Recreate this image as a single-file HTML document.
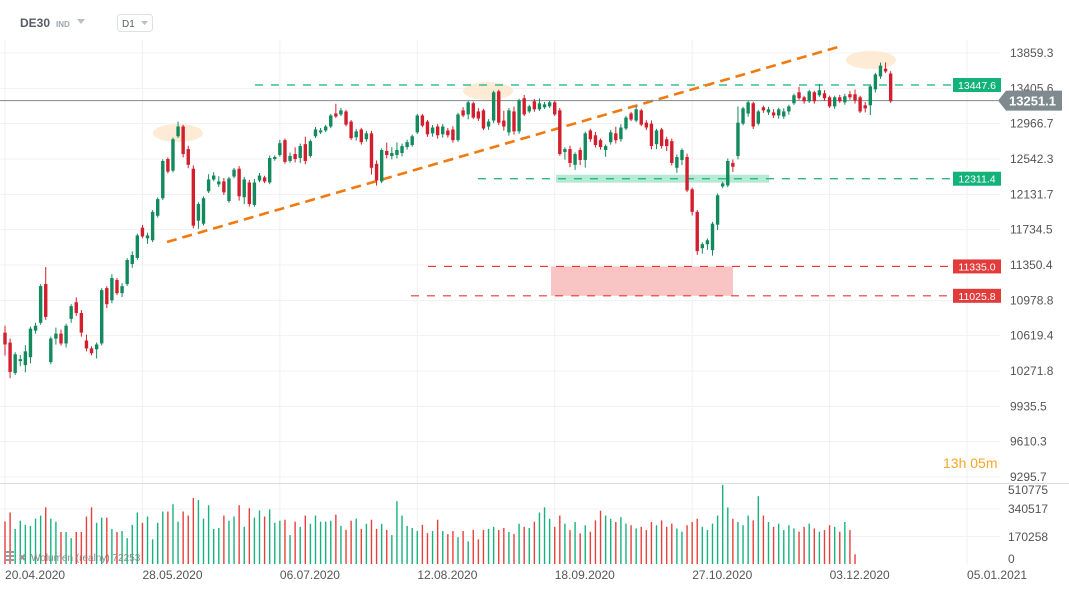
<!DOCTYPE html>
<html><head><meta charset="utf-8"><style>
html,body{margin:0;padding:0;background:#fff;}
body{width:1069px;height:590px;overflow:hidden;font-family:"Liberation Sans",sans-serif;}
svg text{font-family:"Liberation Sans",sans-serif;}
</style></head><body>
<svg id="chart" width="1069" height="590" viewBox="0 0 1069 590" xmlns="http://www.w3.org/2000/svg">
<g id="grid"></g>
<g id="overlays"></g>
<g id="candles"></g>
<g id="volume"></g>
<g id="axes"></g>
<g>
<text x="20" y="27" font-size="12" font-weight="bold" fill="#555e66">DE30</text>
<text x="56" y="27" font-size="8" font-weight="bold" fill="#9aa5ae">IND</text>
<path d="M77 19 L85 19 L81 24 Z" fill="#b8c0c6"/>
<rect x="117.5" y="14.5" width="35" height="17" rx="3" fill="#fff" stroke="#dde1e4"/>
<text x="122" y="27" font-size="10" fill="#555e66">D1</text>
<path d="M141 21 L148 21 L144.5 25 Z" fill="#b8c0c6"/>
</g>
<text x="943" y="468" font-size="14" fill="#f5a623">13h 05m</text>
<g>
<rect x="5" y="551" width="9" height="2" fill="#999"/><rect x="5" y="555" width="9" height="2" fill="#999"/><rect x="5" y="559" width="9" height="2" fill="#999"/>
<text x="18" y="561" font-size="10" fill="#999">✖</text>
<text x="31" y="561" font-size="10" fill="#888">Wolumen  (realny)   72253</text>
</g>
</svg>
<script>
const opens=[10650,10551,10253,10368,10329,10406,10670,10749,11149,10358,10590,10640,10542,10789,10959,10849,10571,10493,10484,10542,11106,10979,11191,11053,11149,11361,11426,11757,11639,11618,11889,12088,12542,12405,12814,12932,12660,12428,11834,11801,12166,12303,12246,12280,12055,12337,12428,12099,12268,12011,12291,12326,12268,12542,12590,12767,12519,12601,12554,12719,12578,12814,12861,12884,12932,13092,13080,13117,12992,12802,12896,12778,12849,12485,12280,12637,12578,12590,12613,12684,12708,12861,13067,12992,12849,12932,12837,12884,12896,12767,13130,13080,13218,13117,13130,12932,13005,13368,13005,12861,13117,12873,13281,13117,13243,13143,13168,13180,13230,13130,12625,12660,12474,12649,12531,12884,12826,12767,12649,12743,12849,12778,12908,13092,13005,13130,12979,12967,12719,12896,12778,12755,12439,12531,12566,12189,11933,11532,11575,11511,11790,12223,12234,12496,12578,12967,13092,13218,12967,13168,13105,13105,13067,13055,13117,13218,13356,13293,13243,13356,13318,13343,13293,13180,13293,13230,13331,13331,13293,13193,13193,13393,13557,13657,13594];
const closes=[10532,10263,10435,10387,10464,10690,10720,11127,10809,10590,10640,10542,10720,10919,10849,10650,10493,10445,10532,11085,10939,11212,11053,11127,11404,11458,11671,11660,11671,11933,12077,12519,12394,12778,12932,12601,12474,11779,12022,12088,12303,12348,12280,12154,12314,12417,12110,12303,12022,12268,12348,12280,12554,12566,12731,12508,12578,12542,12696,12519,12755,12896,12884,12932,13067,13055,13130,12955,12790,12873,12743,12849,12439,12291,12649,12590,12613,12649,12696,12743,12814,13067,12943,12837,12920,12826,12932,12826,12767,13080,13067,13230,13042,13030,12908,12992,13356,12979,12932,13130,12873,13255,13080,13180,13143,13218,13205,13230,13080,12601,12660,12496,12601,12531,12849,12778,12708,12684,12696,12861,12767,12920,13042,13017,13143,12955,12920,12696,12884,12696,12696,12496,12566,12649,12177,11933,11500,11575,11618,11801,12121,12257,12519,12451,12979,13155,13230,12932,13117,13130,13143,13067,13143,13117,13180,13318,13281,13243,13368,13243,13381,13281,13180,13293,13243,13306,13293,13255,13117,13155,13431,13582,13695,13620,13243];
const upperWicks=[70,40,20,40,60,20,30,20,180,20,60,40,20,20,50,30,60,20,20,20,20,40,20,30,20,40,20,30,30,20,20,20,20,20,60,20,40,40,20,20,60,40,60,40,20,20,30,30,30,40,30,20,30,20,40,20,40,80,30,90,20,30,30,20,20,120,30,20,20,30,20,30,30,40,20,100,70,90,30,30,20,20,20,20,30,30,30,30,40,20,40,20,20,40,20,30,20,20,120,30,60,20,40,20,30,60,30,20,20,30,20,40,20,30,20,20,40,20,20,30,80,40,20,20,40,20,30,40,20,20,30,30,30,20,40,20,20,20,20,20,20,20,30,40,200,20,20,20,20,20,30,40,20,40,20,20,70,20,20,20,80,40,20,20,30,30,40,60,20,40,20,20,40,80,30];
const lowerWicks=[110,60,20,50,70,60,30,20,30,20,60,20,40,40,30,40,30,20,90,20,40,30,20,40,20,40,20,20,60,20,20,20,20,20,20,40,40,30,90,20,20,20,30,30,20,20,50,80,30,20,20,20,20,20,20,20,20,40,60,40,20,20,20,20,20,20,20,20,20,40,30,30,80,60,20,40,40,40,40,30,20,20,20,30,40,40,40,30,30,20,20,60,20,30,20,40,30,30,50,40,40,30,20,20,30,20,20,20,20,20,90,50,60,60,90,30,30,30,80,30,40,30,20,20,20,20,30,40,60,30,60,30,60,60,20,40,40,60,60,60,60,20,20,60,40,20,40,30,20,30,30,30,40,30,40,20,20,30,20,30,20,30,20,30,20,30,30,40,20,50,120,40,30,20,20,20];
const volumesK=[264,319,217,268,242,236,281,300,351,281,262,198,198,160,198,198,294,351,255,287,287,217,198,204,160,242,319,255,294,153,255,325,325,370,262,325,300,408,396,281,364,217,223,300,268,294,364,230,345,287,332,294,338,255,268,274,179,262,230,300,249,300,262,262,268,306,236,211,268,281,217,249,274,217,249,211,179,389,300,236,223,204,242,191,204,274,204,185,204,166,204,140,211,153,211,217,230,211,223,198,185,249,230,223,262,319,351,280,230,300,250,210,260,190,240,200,270,330,300,280,260,290,250,240,220,230,210,260,240,270,230,250,220,200,240,260,280,230,210,250,300,490,350,280,260,240,300,270,420,300,260,230,250,210,240,220,200,230,250,220,200,210,240,230,200,260,210,60];
const priceTicks=[13859.3,13405.6,12966.7,12542.3,12131.7,11734.5,11350.4,10978.8,10619.4,10271.8,9935.5,9610.3,9295.7];
const volumeTicks=[510775,340517,170258,0];
const dateLabels=["20.04.2020","28.05.2020","06.07.2020","12.08.2020","18.09.2020","27.10.2020","03.12.2020","05.01.2021"];
const dateIndex=[6,33,60,87,114,141,168,195];
const levels=[13447.6,12311.4,11335.0,11025.8];
const levelColors=["#13b27a","#13b27a","#e23b3b","#e23b3b"];
const currentPrice=13251.1;

const NS="http://www.w3.org/2000/svg";
const LN_TOP=Math.log(13859.3);
function yP(p){return 53+(LN_TOP-Math.log(p))*1061.6;}
function xI(i){return 5+i*5.09;}
function xD(i){return xI(i)-30.5;}
function yV(v){return 564-v/170258*27.5;}
function mk(tag,attrs,parent){const e=document.createElementNS(NS,tag);for(const k in attrs)e.setAttribute(k,attrs[k]);parent.appendChild(e);return e;}

const grid=document.getElementById('grid');
priceTicks.forEach(t=>{const l=mk('line',{x1:0,x2:1000,y1:yP(t),y2:yP(t),stroke:'#f0f1f2','stroke-width':1},grid);

});
dateIndex.forEach(i=>{const l=mk('line',{x1:xD(i),x2:xD(i),y1:40,y2:565,stroke:'#f0f1f2','stroke-width':1},grid);

});
[340517,170258].forEach(v=>{const l=mk('line',{x1:0,x2:1000,y1:yV(v),y2:yV(v),stroke:'#f0f1f2'},grid);

});
const sep=mk('line',{x1:0,x2:1069,y1:483.5,y2:483.5,stroke:'#d8dcdf'},grid);



const ov=document.getElementById('overlays');
const z1=mk('rect',{x:551,y:yP(11335),width:182,height:yP(11025.8)-yP(11335),fill:'#f9c4c4'},ov);


const z2=mk('rect',{x:556,y:yP(12311.4)-4,width:213,height:8,fill:'#b6ead6'},ov);


[[178,133],[488,91],[871,60]].forEach(c=>{const e=mk('ellipse',{cx:c[0],cy:c[1],rx:25,ry:9,fill:'#fde6cc',opacity:0.8},ov);

});
const starts=[255,478,428,411];
levels.forEach((lv,k)=>{const y=yP(lv);
const l=mk('line',{x1:starts[k],x2:952,y1:y,y2:y,stroke:levelColors[k],'stroke-width':1.2,'stroke-dasharray':'8 8'},ov);


const r=mk('rect',{x:953,y:y-7,width:48,height:14,fill:levelColors[k]},ov);


const t=mk('text',{x:977,y:y+4,'font-size':10.5,fill:'#fff','text-anchor':'middle'},ov);t.textContent=lv.toFixed(1);

});
const tl=mk('line',{x1:167,y1:242,x2:838,y2:47,stroke:'#f07a10','stroke-width':2.6,'stroke-dasharray':'10 6'},ov);



const cg=document.getElementById('candles');
for(let i=0;i<opens.length;i++){const o=opens[i],c=closes[i];const up=c>=o;
const col=up?'#138a5e':'#d21f2e';const x=xI(i);
const hi=Math.max(o,c)+upperWicks[i],lo=Math.min(o,c)-lowerWicks[i];
const w=mk('line',{x1:x,x2:x,y1:yP(hi),y2:yP(lo),stroke:col,'stroke-width':1},cg);


const yt=yP(Math.max(o,c)),yb=yP(Math.min(o,c));
const b=mk('rect',{x:x-1.7,y:yt,width:3.4,height:Math.max(1,yb-yt),fill:col},cg);

}

const vg=document.getElementById('volume');
for(let i=0;i<volumesK.length;i++){const up=closes[i]>=opens[i];const v=volumesK[i]*1000;
const r=mk('rect',{x:xI(i)-0.7,y:yV(v),width:1.4,height:564-yV(v),fill:up?'#17b37e':'#e8403a'},vg);

}

const cp=yP(currentPrice);
const cl=mk('line',{x1:0,x2:998,y1:cp,y2:cp,stroke:'#7f8a8f','stroke-width':1},ov);



const ax=document.getElementById('axes');
priceTicks.forEach(t=>{const e=mk('text',{x:1010,y:yP(t)+4,'font-size':12,fill:'#555'},ax);e.textContent=t.toFixed(1);

});
const cb=mk('path',{d:`M998 ${cp} L1006 ${cp-10} L1062 ${cp-10} L1062 ${cp+10} L1006 ${cp+10} Z`,fill:'#7f8a8f'},ax);


const ct=mk('text',{x:1009,y:cp+5,'font-size':13,'font-weight':'bold',fill:'#fff'},ax);ct.textContent=currentPrice.toFixed(1);


const vy=[490,509,537,559];
volumeTicks.forEach((v,k)=>{const e=mk('text',{x:1008,y:vy[k]+4,'font-size':12,fill:'#555'},ax);e.textContent=String(v);

});
dateLabels.forEach((d,k)=>{const e=mk('text',{x:xD(dateIndex[k]),y:579,'font-size':12,fill:'#555'},ax);e.textContent=d;

});
</script>
</body></html>
